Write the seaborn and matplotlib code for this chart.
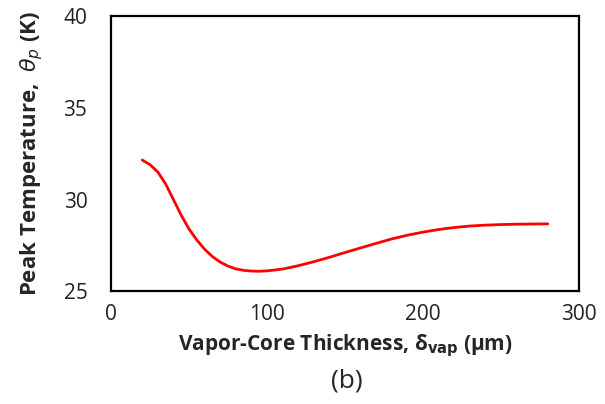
import pandas as pd
import seaborn as sns
import matplotlib
matplotlib.use('Agg')
import matplotlib.pyplot as plt

sns.set_style('white')
plt.rcParams['font.family'] = ['Open Sans', 'DejaVu Sans']
plt.rcParams['mathtext.fontset'] = 'dejavusans'

# vapor-core thickness (um) vs peak temperature (K)
thickness = [20, 25, 30, 35, 40, 45, 50, 55, 60, 65, 70, 75, 80, 85, 90, 95,
             100, 110, 120, 130, 140, 150, 160, 170, 180, 190, 200, 210, 220,
             230, 240, 250, 260, 270, 280]
peak_temp = [32.15, 31.9, 31.5, 30.85, 30.0, 29.15, 28.4, 27.8, 27.3, 26.9,
             26.6, 26.38, 26.23, 26.15, 26.11, 26.1, 26.12, 26.22, 26.4, 26.62,
             26.86, 27.12, 27.37, 27.62, 27.86, 28.06, 28.23, 28.37, 28.48,
             28.56, 28.61, 28.64, 28.66, 28.67, 28.68]

df = pd.DataFrame({'thickness': thickness, 'temp': peak_temp})

fig = plt.figure(figsize=(6.05, 4.04), dpi=100)
ax = fig.add_axes([0.1835, 0.2785, 0.7735, 0.6825])

sns.lineplot(data=df, x='thickness', y='temp', color='#ff0000', linewidth=2.0, ax=ax)

ax.set_xlim(0, 300)
ax.set_ylim(25, 40)
ax.set_xticks([0, 100, 200, 300])
ax.set_yticks([25, 30, 35, 40])

for s in ax.spines.values():
    s.set_visible(True)
    s.set_color('black')
    s.set_linewidth(1.6)

ax.tick_params(axis='x', direction='in', length=5, width=1, labelsize=15, pad=9,
               colors='black', labelcolor='#222222')
ax.tick_params(axis='y', direction='out', length=7, width=1, labelsize=15, pad=10,
               colors='black', labelcolor='#222222')

ax.set_xlabel(r'Vapor-Core Thickness, δ$_{\mathbf{vap}}$ (μm)', fontsize=15,
              fontweight='bold', labelpad=5)
ax.set_ylabel(r'Peak Temperature,  $\theta_p$ (K)', fontsize=16,
              fontweight='bold', labelpad=13)
fig.text(0.574, 0.057, '(b)', fontsize=19, ha='center', va='center')

fig.savefig('out.png', dpi=100)
